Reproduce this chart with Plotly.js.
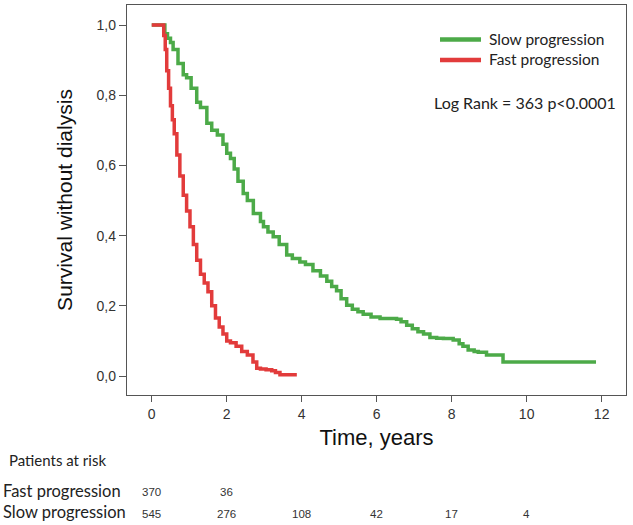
<!DOCTYPE html>
<html>
<head>
<meta charset="utf-8">
<script src="https://cdn.plot.ly/plotly-3.0.1.min.js"></script>
<style>
html,body{margin:0;padding:0;background:#fff;}
#chart{width:633px;height:525px;}
</style>
</head>
<body>
<div id="chart"></div>
<script>
// Kaplan-Meier step data
const fastTime = [0, 0.28, 0.32, 0.36, 0.40, 0.45, 0.50, 0.55, 0.60, 0.67, 0.75, 0.84, 0.93, 1.02, 1.11, 1.20, 1.30, 1.40, 1.50, 1.60, 1.70, 1.80, 1.90, 2.00, 2.10, 2.25, 2.40, 2.55, 2.70, 2.80, 2.90, 3.05, 3.20, 3.30, 3.42, 3.60, 3.87];
const fastSurv = [1, 1, 0.97, 0.93, 0.87, 0.82, 0.77, 0.73, 0.69, 0.63, 0.57, 0.515, 0.47, 0.425, 0.375, 0.33, 0.29, 0.265, 0.24, 0.20, 0.165, 0.14, 0.12, 0.10, 0.095, 0.085, 0.07, 0.06, 0.04, 0.022, 0.02, 0.018, 0.015, 0.01, 0.004, 0.004, 0.004];

const slowTime = [0, 0.30, 0.35, 0.42, 0.50, 0.57, 0.70, 0.84, 0.93, 1.05, 1.20, 1.30, 1.47, 1.60, 1.75, 1.90, 2.00, 2.10, 2.20, 2.30, 2.44, 2.55, 2.71, 2.90, 2.98, 3.10, 3.24, 3.40, 3.60, 3.75, 3.95, 4.10, 4.30, 4.50, 4.67, 4.80, 4.93, 5.05, 5.20, 5.35, 5.50, 5.64, 5.85, 6.09, 6.30, 6.53, 6.65, 6.80, 6.95, 7.10, 7.25, 7.42, 7.60, 7.78, 8.04, 8.20, 8.30, 8.44, 8.60, 8.71, 8.93, 9.10, 9.36, 9.37, 11.85];
const slowSurv = [1, 1, 0.975, 0.962, 0.95, 0.93, 0.89, 0.858, 0.85, 0.82, 0.78, 0.765, 0.72, 0.70, 0.687, 0.66, 0.635, 0.62, 0.59, 0.555, 0.52, 0.50, 0.463, 0.44, 0.425, 0.41, 0.397, 0.375, 0.345, 0.335, 0.325, 0.318, 0.30, 0.285, 0.27, 0.255, 0.243, 0.22, 0.202, 0.19, 0.183, 0.176, 0.168, 0.164, 0.164, 0.162, 0.155, 0.145, 0.135, 0.126, 0.12, 0.11, 0.108, 0.107, 0.103, 0.092, 0.085, 0.074, 0.07, 0.068, 0.06, 0.06, 0.06, 0.04, 0.04];

const xTicks = [0, 2, 4, 6, 8, 10, 12];
const yTicks = [0, 0.2, 0.4, 0.6, 0.8, 1.0];
const yTickText = ["0,0", "0,2", "0,4", "0,6", "0,8", "1,0"];

const riskTimesFast = [0, 2];
const fastAtRisk = [370, 36];
const riskTimesSlow = [0, 2, 4, 6, 8, 10];
const slowAtRisk = [545, 276, 108, 42, 17, 4];

const seriesNames = ["Slow progression", "Fast progression"];
const GREEN = "#4caa48";
const RED = "#e23b3b";

const traces = [
  {x: slowTime, y: slowSurv, type: "scatter", mode: "lines", line: {shape: "hv", color: GREEN, width: 3.5}, name: seriesNames[0], showlegend: false, hoverinfo: "skip"},
  {x: fastTime, y: fastSurv, type: "scatter", mode: "lines", line: {shape: "hv", color: RED, width: 3.5}, name: seriesNames[1], showlegend: false, hoverinfo: "skip"}
];

const gill = "Lato, 'Open Sans', sans-serif";
const arial = "'Liberation Sans', Arial, sans-serif";
const narrow = "'Liberation Sans Narrow', 'Liberation Sans', Arial, sans-serif";

// row positions in paper coordinates (plot area 5..395 px tall 390)
function py(px) { return (395 - px) / 390; }

const annotations = [];
// legend texts
annotations.push({xref: "paper", yref: "paper", x: (487 - 127) / 499, y: py(39), xanchor: "left", yanchor: "middle", text: seriesNames[0], showarrow: false, font: {family: gill, size: 15.5, color: "#222"}});
annotations.push({xref: "paper", yref: "paper", x: (487 - 127) / 499, y: py(59), xanchor: "left", yanchor: "middle", text: seriesNames[1], showarrow: false, font: {family: gill, size: 15.5, color: "#222"}});
annotations.push({xref: "paper", yref: "paper", x: (618 - 127) / 499, y: py(102), xanchor: "right", yanchor: "middle", text: "Log Rank = 363 p&lt;0.0001", showarrow: false, font: {family: gill, size: 16, color: "#222"}});
// risk table
annotations.push({xref: "paper", yref: "paper", x: (7 - 127) / 499, y: py(460), xanchor: "left", yanchor: "middle", text: "Patients at risk", showarrow: false, font: {family: gill, size: 15, color: "#222"}});
annotations.push({xref: "paper", yref: "paper", x: (1 - 127) / 499, y: py(491), xanchor: "left", yanchor: "middle", text: "Fast progression", showarrow: false, font: {family: gill, size: 16.5, color: "#222"}});
annotations.push({xref: "paper", yref: "paper", x: (1 - 127) / 499, y: py(512), xanchor: "left", yanchor: "middle", text: "Slow progression", showarrow: false, font: {family: gill, size: 16.5, color: "#222"}});
fastAtRisk.forEach((v, i) => annotations.push({xref: "x", yref: "paper", x: riskTimesFast[i], y: py(492), xanchor: "center", yanchor: "middle", text: String(v), showarrow: false, font: {family: narrow, size: 11.5, color: "#333"}}));
slowAtRisk.forEach((v, i) => annotations.push({xref: "x", yref: "paper", x: riskTimesSlow[i], y: py(514), xanchor: "center", yanchor: "middle", text: String(v), showarrow: false, font: {family: narrow, size: 11.5, color: "#333"}}));

const shapes = [
  {type: "line", xref: "paper", yref: "paper", x0: (440 - 127) / 499, x1: (481 - 127) / 499, y0: py(39.5), y1: py(39.5), line: {color: GREEN, width: 4.5}},
  {type: "line", xref: "paper", yref: "paper", x0: (440 - 127) / 499, x1: (481 - 127) / 499, y0: py(60), y1: py(60), line: {color: RED, width: 4.5}}
];

const layout = {
  width: 633, height: 525,
  margin: {l: 127, r: 7, t: 5, b: 130, pad: 0},
  paper_bgcolor: "#fff", plot_bgcolor: "#fff",
  showlegend: false,
  xaxis: {
    range: [-0.66, 12.65], tickvals: xTicks, ticktext: xTicks.map(String),
    ticks: "outside", ticklen: 6, tickcolor: "#555", tickwidth: 1,
    showline: true, mirror: true, linecolor: "#555", linewidth: 1.2,
    showgrid: false, zeroline: false,
    tickfont: {family: arial, size: 14, color: "#333"},
    title: {text: "Time, years", font: {family: arial, size: 22, color: "#111"}, standoff: 8},
    automargin: false
  },
  yaxis: {
    range: [-0.054, 1.057], tickvals: yTicks, ticktext: yTickText,
    ticks: "outside", ticklen: 7, tickcolor: "#555", tickwidth: 1,
    showline: true, mirror: true, linecolor: "#555", linewidth: 1.2,
    showgrid: false, zeroline: false,
    tickfont: {family: arial, size: 14, color: "#333"},
    title: {text: "Survival without dialysis", font: {family: arial, size: 21, color: "#111"}, standoff: 18},
    automargin: false
  },
  annotations: annotations,
  shapes: shapes
};

Plotly.newPlot("chart", traces, layout, {staticPlot: true, displayModeBar: false});
</script>
</body>
</html>
